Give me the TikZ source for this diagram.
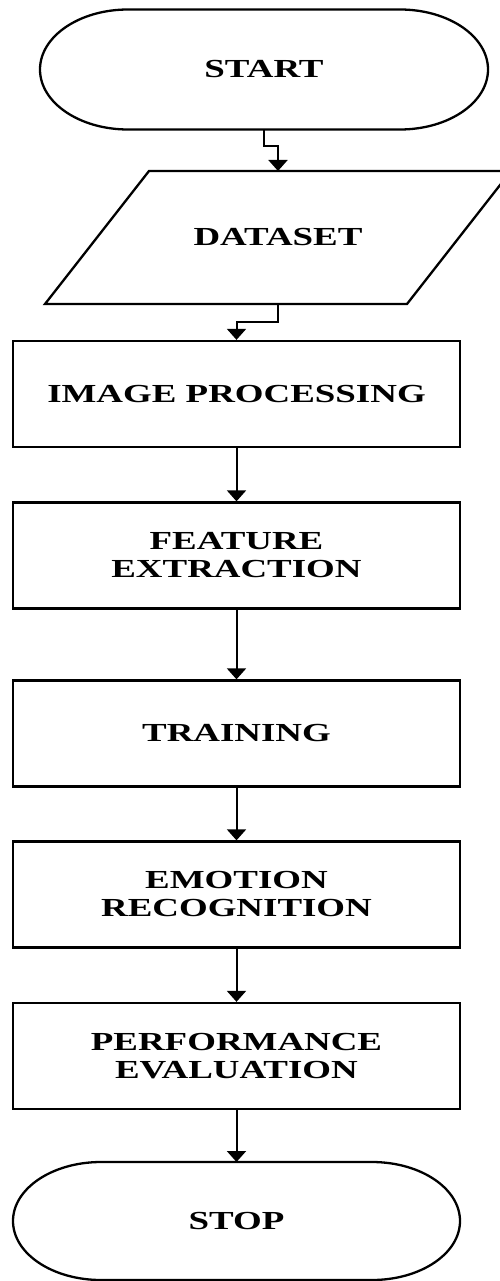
\documentclass[tikz,border=0pt]{standalone}
\usepackage{fontspec}
\setmainfont{Liberation Serif}[FakeStretch=1.42]
\usetikzlibrary{arrows.meta,calc}
\begin{document}
\begin{tikzpicture}[x=1pt,y=-1pt,
  line width=2.3pt,
  txt/.style={font=\fontsize{26}{28}\selectfont\bfseries, align=center, inner sep=0pt},
  procbox/.style={txt, draw, minimum width=447pt, minimum height=106pt},
  term/.style={txt, outer sep=0pt, minimum width=448pt, minimum height=120pt},
  arr/.style={-{Triangle[width=19pt,length=11pt]}, line width=2pt}]
\clip (0,0) rectangle (500,1281);
\fill[white] (0,0) rectangle (500,1281);

% START terminal
\node[term] (start) at (264,69.5) {START};
\draw ($(start.north west)+(88,0)$) -- ($(start.north east)+(-88,0)$)
  arc[start angle=90,end angle=-90,x radius=88pt,y radius=60pt]
  -- ($(start.south west)+(88,0)$)
  arc[start angle=270,end angle=90,x radius=88pt,y radius=60pt] -- cycle;

% DATASET parallelogram
\node[txt, outer sep=0pt, minimum width=362pt, minimum height=133pt] (data) at (278,237.5) {\raisebox{-3pt}{DATASET}};
\draw ($(data.north west)+(52,0)$) -- ($(data.north east)+(52,0)$)
  -- ($(data.south east)+(-52,0)$) -- ($(data.south west)+(-52,0)$) -- cycle;

\node[procbox] (imgp) at (236.5,394) {IMAGE PROCESSING};
\node[procbox] (feat) at (236.5,555.5) {FEATURE\\EXTRACTION};
\node[procbox] (train) at (236.5,733.5) {TRAINING};
\node[procbox] (emo) at (236.5,894.5) {EMOTION\\RECOGNITION};
\node[procbox] (perf) at (236.5,1056) {PERFORMANCE\\EVALUATION};

% STOP terminal
\node[term, minimum width=447pt, minimum height=118pt] (stop) at (236.5,1221) {STOP};
\draw ($(stop.north west)+(88,0)$) -- ($(stop.north east)+(-88,0)$)
  arc[start angle=90,end angle=-90,x radius=88pt,y radius=59pt]
  -- ($(stop.south west)+(88,0)$)
  arc[start angle=270,end angle=90,x radius=88pt,y radius=59pt] -- cycle;

% connectors
\draw[arr] (start.south) -- ++(0,17) -| (data.north);
\draw[arr] (data.south) -- ++(0,18) -| (imgp.north);
\draw[arr] (imgp) -- (feat);
\draw[arr] (feat) -- (train);
\draw[arr] (train) -- (emo);
\draw[arr] (emo) -- (perf);
\draw[arr] (perf) -- (stop);
\end{tikzpicture}
\end{document}
